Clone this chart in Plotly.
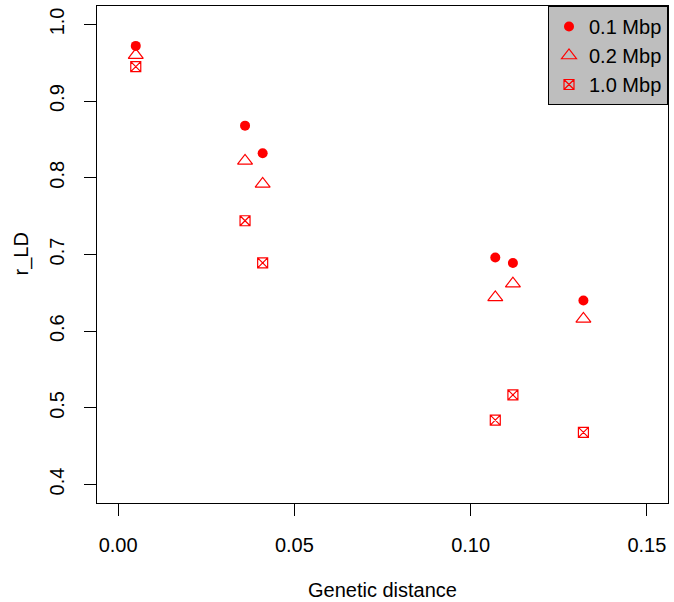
import plotly.graph_objects as go

# Data
genetic_distance = [0.005, 0.036, 0.041, 0.107, 0.112, 0.132]
r_ld_01 = [0.972, 0.868, 0.832, 0.696, 0.689, 0.640]
r_ld_02 = [0.960, 0.822, 0.792, 0.644, 0.662, 0.616]
r_ld_10 = [0.945, 0.744, 0.689, 0.484, 0.517, 0.468]
series_names = ["0.1 Mbp", "0.2 Mbp", "1.0 Mbp"]

x_ticks = [0.0, 0.05, 0.10, 0.15]
x_tick_labels = ["0.00", "0.05", "0.10", "0.15"]
y_ticks = [0.4, 0.5, 0.6, 0.7, 0.8, 0.9, 1.0]
y_tick_labels = ["0.4", "0.5", "0.6", "0.7", "0.8", "0.9", "1.0"]

RED = "#FF0000"
FONT = "Liberation Sans, Arial, sans-serif"

fig = go.Figure()
fig.add_trace(go.Scatter(x=genetic_distance, y=r_ld_01, mode="markers", name=series_names[0],
                         marker=dict(symbol="circle", size=10, color=RED, line=dict(width=0))))
fig.add_trace(go.Scatter(x=genetic_distance, y=r_ld_02, mode="markers", name=series_names[1],
                         marker=dict(symbol="triangle-up-open", size=13, color=RED, line=dict(width=1.2, color=RED))))
fig.add_trace(go.Scatter(x=genetic_distance, y=r_ld_10, mode="markers", name=series_names[2],
                         marker=dict(symbol="square-x-open", size=10, color=RED, line=dict(width=1.2, color=RED))))

fig.update_layout(
    width=674, height=602,
    margin=dict(l=97, r=6, t=6, b=99),
    paper_bgcolor="white", plot_bgcolor="white",
    font=dict(family=FONT, size=20, color="black"),
    showlegend=True,
    legend=dict(x=1, xanchor="right", y=1, yanchor="top",
                bgcolor="#BEBEBE", bordercolor="black", borderwidth=1,
                font=dict(size=20), itemwidth=30, tracegroupgap=0),
)
fig.update_xaxes(range=[-0.006, 0.156], tickvals=x_ticks, ticktext=x_tick_labels,
                 showgrid=False, zeroline=False, showline=True, mirror=True,
                 linecolor="black", linewidth=1, ticks="outside", ticklen=12,
                 tickcolor="black", ticklabelstandoff=12)
fig.update_yaxes(range=[0.376, 1.024], tickvals=y_ticks, ticktext=y_tick_labels,
                 showgrid=False, zeroline=False, showline=True, mirror=True,
                 linecolor="black", linewidth=1, ticks="outside", ticklen=12,
                 tickcolor="black", tickangle=-90, ticklabelstandoff=12)

fig.add_annotation(text="Genetic distance", xref="paper", yref="paper", x=0.5, y=0,
                   xanchor="center", yanchor="middle",
                   yshift=-87, showarrow=False, font=dict(size=20))
fig.add_annotation(text="r_LD", xref="paper", yref="paper", x=0, y=0.5,
                   xanchor="center", yanchor="middle",
                   xshift=-76, textangle=-90, showarrow=False, font=dict(size=20))

fig.write_html("out.html", config={"displayModeBar": False},
               post_script="document.body.style.margin='0px';")
